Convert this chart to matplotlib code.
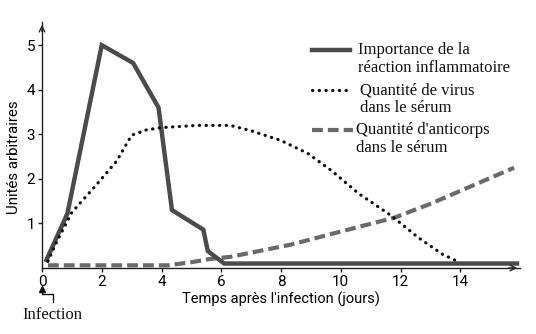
import matplotlib
matplotlib.use("Agg")
import matplotlib.pyplot as plt
from matplotlib.lines import Line2D

# --- data ---
infl_x = [0.15, 0.85, 2.0, 3.05, 3.9, 4.35, 5.4, 5.55, 6.1, 15.9]
infl_y = [0.18, 1.22, 5.0, 4.6, 3.6, 1.3, 0.86, 0.38, 0.1, 0.1]

virus_x = [0.2, 0.5, 1.0, 1.8, 2.5, 3.0, 3.5, 4.0, 5.2, 6.3, 7.0, 8.0, 8.9, 9.7, 10.6, 11.7, 12.6, 13.4, 14.0]
virus_y = [0.15, 0.6, 1.25, 1.85, 2.4, 2.98, 3.1, 3.15, 3.2, 3.2, 3.08, 2.86, 2.57, 2.18, 1.67, 1.17, 0.68, 0.31, 0.12]

ab_x = [0.2, 4.2, 5.0, 5.6, 6.3, 8.3, 10.3, 11.8, 13.0, 15.8]
ab_y = [0.06, 0.06, 0.13, 0.2, 0.25, 0.52, 0.87, 1.13, 1.44, 2.25]

xticks = [0, 2, 4, 6, 8, 10, 12, 14]
yticks = [1, 2, 3, 4, 5]
legend_labels = ["Importance de la\nréaction inflammatoire",
                 "Quantité de virus\ndans le sérum",
                 "Quantité d'anticorps\ndans le sérum"]

sans = ["Roboto", "DejaVu Sans"]
serif = ["Liberation Serif", "DejaVu Serif"]

W, H = 536, 334
fig = plt.figure(figsize=(W / 100, H / 100), dpi=100)
fig.patch.set_facecolor("white")
ax = fig.add_axes([42 / W, 1 - 268 / H, (520 - 42) / W, (268 - 22) / H])
ax.set_xlim(0, 16)
ax.set_ylim(0, 5.52)

infl_color = "#4b4b4b"
ab_color = "#6a6a6a"

ax.plot(infl_x, infl_y, color=infl_color, lw=3.2, solid_joinstyle="miter", zorder=3)
ax.plot(virus_x, virus_y, color="#111111", lw=2.3, linestyle=(0, (0.1, 2.0)),
        dash_capstyle="round", zorder=4)
ax.plot(ab_x, ab_y, color=ab_color, lw=3.0, linestyle=(0, (2.6, 1.2)), zorder=2)

for s in ["top", "right"]:
    ax.spines[s].set_visible(False)
for s in ["left", "bottom"]:
    ax.spines[s].set_linewidth(1.0)
    ax.spines[s].set_color("#222222")

# axis arrows
ax.annotate("", xy=(0, 1.0), xycoords="axes fraction", xytext=(0, 0.95),
            arrowprops=dict(arrowstyle="->", color="#222222", lw=1.0))
ax.annotate("", xy=(1.0, 0), xycoords="axes fraction", xytext=(0.97, 0),
            arrowprops=dict(arrowstyle="->", color="#222222", lw=1.0))

ax.set_xticks(xticks)
ax.set_xticklabels([str(t) for t in xticks], family=sans, fontsize=11)
ax.set_yticks(yticks)
ax.set_yticklabels([str(t) for t in yticks], family=sans, fontsize=11)
ax.tick_params(axis="both", length=3, width=1, color="#222222", pad=2)

ax.set_xlabel("Temps après l'infection (jours)", family=sans, fontsize=10.5, labelpad=2)
ax.set_ylabel("Unités arbitraires", family=sans, fontsize=10.8)
ax.yaxis.set_label_coords(-21 / 478, 0.45)

# legend (manual)
tf = fig.transFigure
def fx(px):
    return px / W
def fy(py):
    return 1 - py / H

handles = [
    dict(color=infl_color, lw=3.2, ls="-"),
    dict(color="#111111", lw=2.3, ls=(0, (0.1, 2.0)), dash_capstyle="round"),
    dict(color=ab_color, lw=3.0, ls=(0, (2.6, 1.2))),
]
rows = [48, 88, 128]
hx = [(312, 350), (312, 348), (312, 353)]
tx = [358, 360, 356]
for lab, hd, r, (x0, x1), t in zip(legend_labels, handles, rows, hx, tx):
    ln = Line2D([fx(x0), fx(x1)], [fy(r + 2), fy(r + 2)], transform=tf,
                color=hd["color"], lw=hd["lw"], linestyle=hd["ls"],
                dash_capstyle=hd.get("dash_capstyle", "butt"))
    fig.add_artist(ln)
    fig.text(fx(t), fy(r - 6), lab, family=serif, fontsize=12, va="top", ha="left",
             linespacing=1.2, color="#111111")

# infection annotation
fig.add_artist(Line2D([fx(42), fx(42), fx(53), fx(53)],
                      [fy(290), fy(294), fy(294), fy(302)], transform=tf,
                      color="#111111", lw=1.0))
fig.add_artist(Line2D([fx(42)], [fy(289)], transform=tf, marker="^",
                      markersize=5, color="#111111", lw=0))
fig.text(fx(22), fy(315), "Infection", family=serif, fontsize=12, va="center",
         ha="left", color="#111111")

fig.savefig("out.png", dpi=100, facecolor="white")
